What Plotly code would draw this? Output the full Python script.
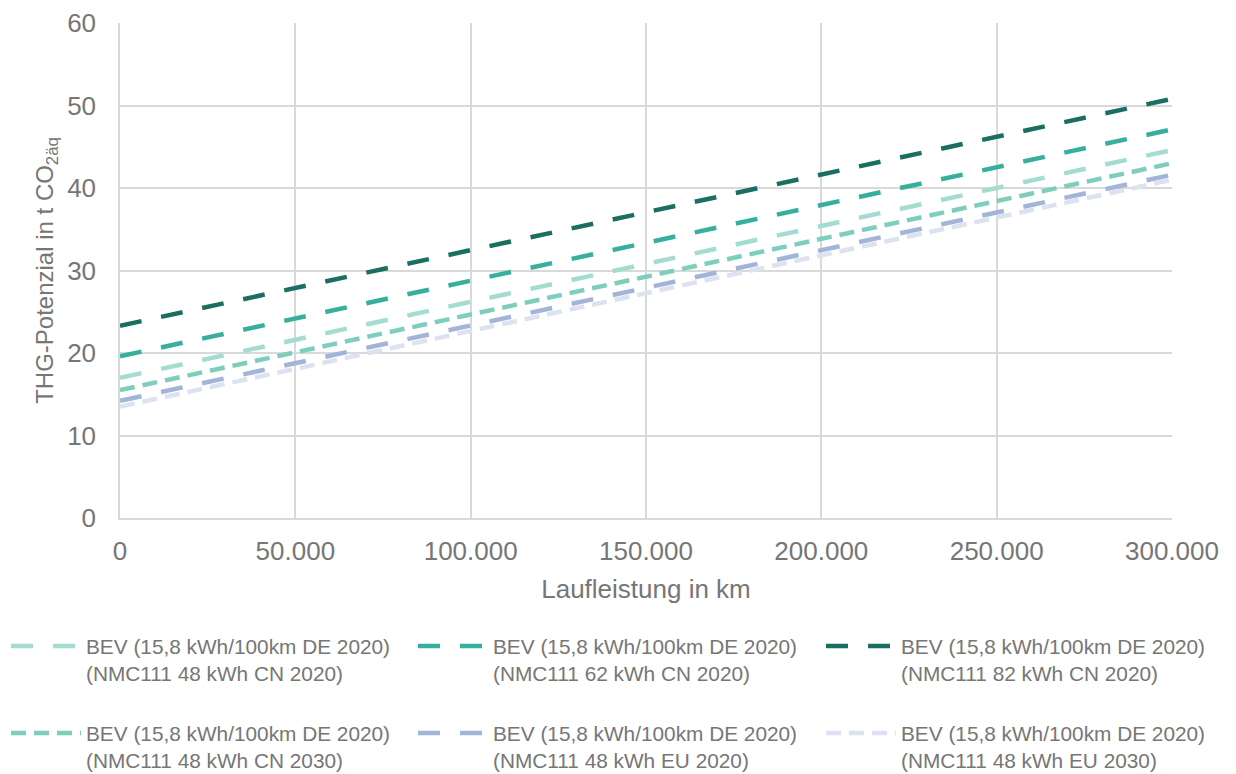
import plotly.graph_objects as go

# --- data ---
km = [0, 300000]
series_names = [
    "BEV (15,8 kWh/100km DE 2020)<br>(NMC111 48 kWh CN 2020)",
    "BEV (15,8 kWh/100km DE 2020)<br>(NMC111 62 kWh CN 2020)",
    "BEV (15,8 kWh/100km DE 2020)<br>(NMC111 82 kWh CN 2020)",
    "BEV (15,8 kWh/100km DE 2020)<br>(NMC111 48 kWh CN 2030)",
    "BEV (15,8 kWh/100km DE 2020)<br>(NMC111 48 kWh EU 2020)",
    "BEV (15,8 kWh/100km DE 2020)<br>(NMC111 48 kWh EU 2030)",
]
thg_at_0km = [17.0, 19.6, 23.3, 15.5, 14.2, 13.5]
thg_at_300000km = [44.6, 47.1, 50.8, 43.0, 41.6, 41.0]
x_ticks = [0, 50000, 100000, 150000, 200000, 250000, 300000]
y_ticks = [0, 10, 20, 30, 40, 50, 60]

# --- styles ---
W, H = 1236, 774
colors = ["#a4dcd1", "#36b09d", "#1b6f62", "#7ecebd", "#a2b4d7", "#dce2ef"]
long_dash = "22px,20px"
short_dash = "15px,8px"
dashes = [long_dash, long_dash, long_dash, short_dash, long_dash, short_dash]
legend_cols_px = [6, 413, 821]      # left edge of each legend column
legend_rows_px = [626, 713]         # top edge of each legend row
text_color = "#767676"
grid_color = "#d9d9d9"

fig = go.Figure()
legend_layouts = {}
for i, (name, y0, y1, c, d) in enumerate(zip(series_names, thg_at_0km, thg_at_300000km, colors, dashes)):
    lg = "legend" if i == 0 else f"legend{i + 1}"
    fig.add_trace(go.Scatter(
        x=km, y=[y0, y1], mode="lines", name=name, legend=lg, showlegend=True,
        line=dict(color=c, width=4.5, dash=d),
    ))
    legend_layouts[lg] = dict(
        orientation="h", xref="container", yref="container",
        x=legend_cols_px[i % 3] / W, xanchor="left",
        y=1 - legend_rows_px[i // 3] / H, yanchor="top",
        itemwidth=70, valign="top",
        font=dict(size=20.8, color=text_color),
        bgcolor="rgba(0,0,0,0)",
    )

fig.update_layout(
    width=W, height=H, showlegend=True,
    margin=dict(l=120, r=64, t=23, b=256, autoexpand=False),
    plot_bgcolor="white", paper_bgcolor="white",
    separators=",.",
    font=dict(family="Liberation Sans, Arial, sans-serif", color=text_color),
    xaxis=dict(
        range=[0, 300000], tickvals=x_ticks, tickformat=",d",
        showgrid=True, gridcolor=grid_color, gridwidth=1.5,
        showline=True, linecolor=grid_color, linewidth=1.5,
        zeroline=False, ticks="", ticklabelstandoff=9,
        tickfont=dict(size=26, color=text_color),
        title=dict(text="Laufleistung in km", font=dict(size=26, color=text_color), standoff=15),
    ),
    yaxis=dict(
        range=[0, 60], tickvals=y_ticks,
        showgrid=True, gridcolor=grid_color, gridwidth=1.5,
        showline=True, linecolor=grid_color, linewidth=1.5,
        zeroline=False, ticks="", ticklabelstandoff=17,
        tickfont=dict(size=26, color=text_color),
        title=dict(text="THG-Potenzial in t CO<sub>2äq</sub>", font=dict(size=24, color=text_color), standoff=7),
    ),
    **legend_layouts,
)

fig.write_html(
    "out.html",
    config={"displayModeBar": False},
    post_script="document.body.style.margin='0';document.body.style.overflow='hidden';",
)
